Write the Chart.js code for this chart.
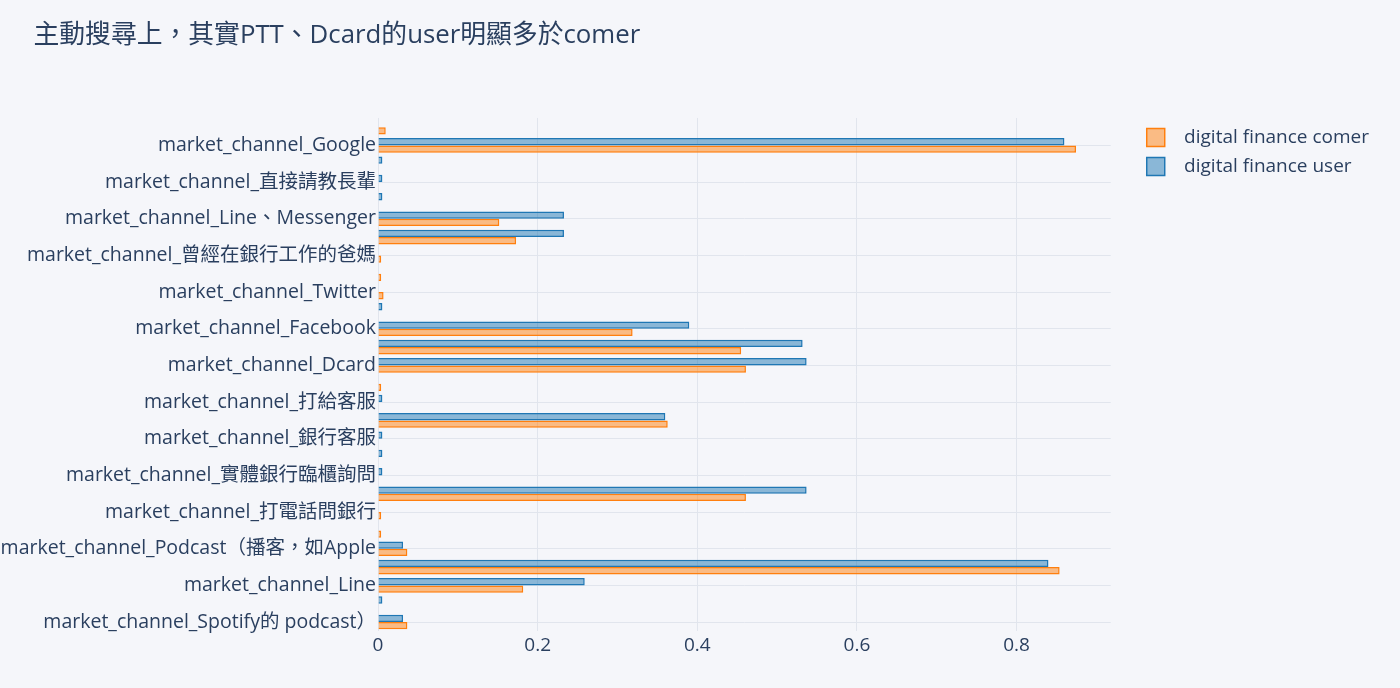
<!DOCTYPE html>
<html>
<head>
<meta charset="utf-8">
<script src="https://cdn.jsdelivr.net/npm/chart.js@4/dist/chart.umd.min.js"></script>
<style>
  html, body { margin: 0; padding: 0; background: #f5f6fa; }
  #wrap { width: 1400px; height: 688px; }
</style>
</head>
<body>
<div id="wrap"><canvas id="myChart"></canvas></div>
<script>
// top to bottom; only every other label is shown, like the original
const labels = [
  'market_channel_Yahoo',
  'market_channel_Google',
  'market_channel_親友推薦',
  'market_channel_直接請教長輩',
  'market_channel_同事',
  'market_channel_Line、Messenger',
  'market_channel_Instagram',
  'market_channel_曾經在銀行工作的爸媽',
  'market_channel_Telegram',
  'market_channel_Twitter',
  'market_channel_報章雜誌',
  'market_channel_Facebook',
  'market_channel_PTT',
  'market_channel_Dcard',
  'market_channel_電視廣告',
  'market_channel_打給客服',
  'market_channel_YouTube',
  'market_channel_銀行客服',
  'market_channel_理專',
  'market_channel_實體銀行臨櫃詢問',
  'market_channel_部落格',
  'market_channel_打電話問銀行',
  'market_channel_廣播',
  'market_channel_Podcast（播客，如Apple',
  'market_channel_搜尋引擎',
  'market_channel_Line',
  'market_channel_簡訊',
  'market_channel_Spotify的 podcast）'
];

const userValues = [
  0, 0.860, 0.0055, 0.0055, 0.0055, 0.233, 0.233, 0, 0, 0,
  0.0055, 0.390, 0.532, 0.537, 0, 0.0055, 0.360, 0.0055, 0.0055, 0.0055,
  0.537, 0, 0, 0.0314, 0.840, 0.259, 0.0055, 0.0314
];

const comerValues = [
  0.0097, 0.8745, 0, 0, 0, 0.152, 0.173, 0.004, 0.004, 0.007,
  0, 0.319, 0.455, 0.461, 0.004, 0, 0.363, 0, 0, 0,
  0.461, 0.004, 0.004, 0.0368, 0.854, 0.182, 0, 0.0368
];

const xTicks = [0, 0.2, 0.4, 0.6, 0.8];

const textColor = '#2a3f5f';
const gridColor = '#e1e5ed';

Chart.defaults.font.family = "'Open Sans', 'Noto Sans CJK TC', sans-serif";
Chart.defaults.color = textColor;

const data = {
  labels: labels,
  datasets: [{
    label: 'digital finance user',
    data: userValues,
    backgroundColor: 'rgba(31,119,180,0.5)',
    borderColor: '#1f77b4',
    borderWidth: 1.5
  }, {
    label: 'digital finance comer',
    data: comerValues,
    backgroundColor: 'rgba(255,127,14,0.5)',
    borderColor: '#ff7f0e',
    borderWidth: 1.5
  }]
};

const config = {
  type: 'bar',
  data: data,
  options: {
    indexAxis: 'y',
    responsive: true,
    maintainAspectRatio: false,
    animation: false,
    categoryPercentage: 0.8,
    barPercentage: 1.0,
    layout: {
      padding: { left: 0, right: 21, top: 0, bottom: 28 }
    },
    scales: {
      x: {
        type: 'linear',
        min: 0,
        max: 0.918,
        border: { display: false },
        grid: { color: gridColor, lineWidth: 1, drawTicks: false },
        ticks: {
          stepSize: 0.2,
          includeBounds: false,
          padding: 3,
          font: { size: 19 },
          callback: function(v) {
            return xTicks.some(t => Math.abs(t - v) < 1e-6) ? String(Math.round(v * 10) / 10) : null;
          }
        }
      },
      y: {
        border: { display: false },
        grid: { color: gridColor, lineWidth: 1, offset: false, drawTicks: false },
        ticks: {
          autoSkip: false,
          padding: 2,
          font: { size: 19.5 },
          callback: function(v, i) {
            return i % 2 === 1 ? this.getLabelForValue(v) : null;
          }
        },
        afterFit: function(s) { s.width = 378; }
      },
      // empty axis used as a gap between plot and legend
      spacer: {
        type: 'linear',
        position: 'right',
        border: { display: false },
        grid: { display: false },
        ticks: { display: false },
        afterFit: function(s) { s.width = 26; }
      }
    },
    plugins: {
      title: {
        display: true,
        text: '     主動搜尋上，其實PTT、Dcard的user明顯多於comer',
        align: 'start',
        color: textColor,
        font: { size: 25.8, weight: 'normal' },
        padding: { top: 20, bottom: 67 }
      },
      legend: {
        display: true,
        position: 'right',
        align: 'start',
        fullSize: false,
        maxWidth: 320,
        reverse: true,
        labels: {
          boxWidth: 18,
          boxHeight: 18,
          padding: 10,
          color: textColor,
          font: { size: 19 },
          generateLabels: function(chart) {
            const items = Chart.defaults.plugins.legend.labels.generateLabels(chart);
            items.forEach(it => { it.text = '  ' + it.text; });
            return items;
          }
        }
      },
      tooltip: { enabled: false }
    }
  }
};

new Chart(document.getElementById('myChart'), config);
</script>
</body>
</html>
